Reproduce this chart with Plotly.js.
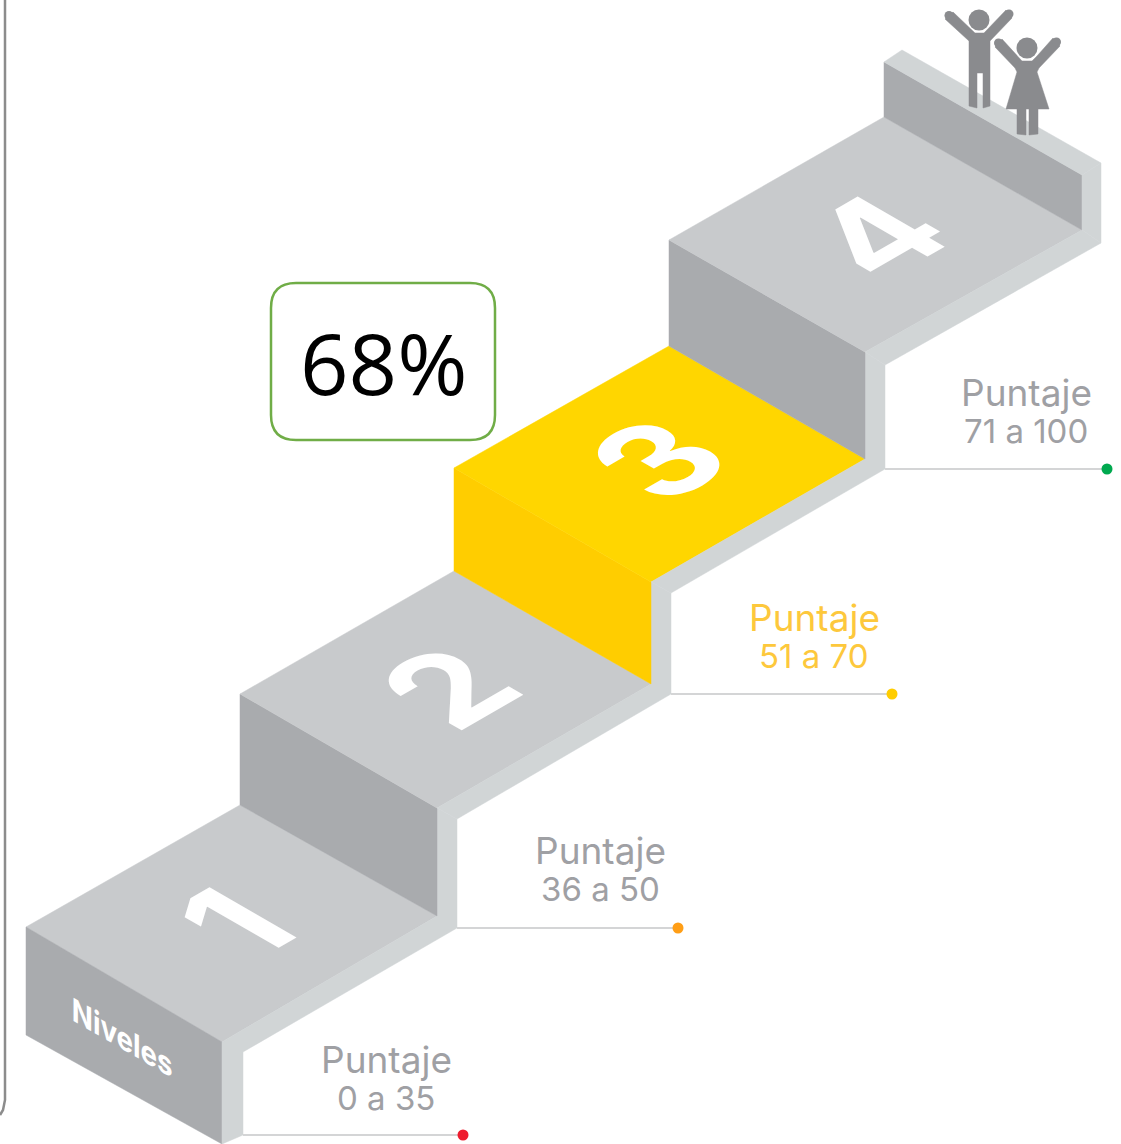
<!DOCTYPE html>
<html><head><meta charset="utf-8">
<script src="https://cdn.plot.ly/plotly-3.0.1.min.js"></script>
<style>html,body{margin:0;padding:0;background:#fff;overflow:hidden}#c{width:1121px;height:1144px}</style>
</head><body><div id="c"></div>
<script>
const GREY_TOP='#c8cacc',GREY_RISER='#a9abae',LIGHT='#d1d5d6',YEL_TOP='#ffd600',YEL_RISER='#ffcd00',FIG='#8a8b8e',TXT='#9fa0a4',TXT_Y='#fdc83c';

const step1Top=[[26,927],[240,805],[437,916],[222,1042]];
const step1Front=[[26,927],[222,1042],[222,1144],[26,1035]];
const band1=[[222,1042],[437,916],[437,808],[457,819],[457,928],[243,1052],[243,1135],[222,1144]];
const riser2=[[240,805],[240,694],[437,808],[437,916]];
const step2Top=[[240,694],[454,571],[651,684],[437,808]];
const band2=[[437,808],[651,684],[651,582],[671,593],[671,694],[457,819]];
const riser3=[[454,571],[454,468],[651,582],[651,684]];
const step3Top=[[454,468],[669,346],[865,459],[651,582]];
const band3=[[651,582],[865,459],[865,352],[885,365],[885,469],[671,593]];
const riser4=[[669,346],[669,240],[865,352],[865,459]];
const step4Top=[[669,240],[884,117],[1082,230],[865,352]];
const band4=[[865,352],[1082,230],[1101,243],[885,365]];
const wall=[[884,117],[884,62],[1082,175],[1082,230]];
const wallTop=[[884,62],[902,50],[1101,163],[1082,175]];
const wallSide=[[1082,175],[1101,163],[1101,243],[1082,230]];
const man=[[953,12],[971,29],[975,33],[984,33],[988,29],[1006,10],[1012,18],[990,41],[990,106],[983,108],[983,73],[977,73],[977,108],[969,106],[969,41],[945,19]];
const woman=[[1002,39],[1017,56],[1022,61],[1032,61],[1037,56],[1053,38],[1060,46],[1039,68],[1037,72],[1049,109],[1038,109],[1038,134],[1029,135],[1029,109],[1026,109],[1026,135],[1017,134],[1017,109],[1006,109],[1017,72],[1015,68],[995,47]];
const heads=[[979,20],[1027,48]];
const hands=[[949,15.5],[1009,14],[998.5,43],[1056.5,42]];

const polys=[[step1Top,GREY_TOP],[step1Front,GREY_RISER],[band1,LIGHT],[riser2,GREY_RISER],[step2Top,GREY_TOP],[band2,LIGHT],
 [riser3,YEL_RISER],[step3Top,YEL_TOP],[band3,LIGHT],[riser4,GREY_RISER],[step4Top,GREY_TOP],[band4,LIGHT],
 [wall,GREY_RISER],[wallTop,LIGHT],[wallSide,LIGHT],[man,FIG],[woman,FIG]];

const leaderX=[[243,463],[457,678],[671,892],[885,1107]];
const leaderY=[1135,928,694,469];
const dotColors=['#ee1c2e','#ff9e16','#ffcd00','#00a94f'];
const labelTop=['Puntaje','Puntaje','Puntaje','Puntaje'];
const labelBottom=['0 a 35','36 a 50','51 a 70','71 a 100'];
const labelX=[386,600,814,1026];
const labelTopY=[1059,850,617,392];
const labelBottomY=[1098,889,656,431];
const labelColors=[TXT,TXT,TXT_Y,TXT];
const digits=['1','2','3','4'];
const digitX=[235,448,657,876];
const digitY=[922,687,459,235];
const scoreText='68%';
const frameX=[5,5,3,0],frameY=[0,1100,1110,1115];

const traces=[];
polys.forEach(([p,c])=>traces.push({type:'scatter',mode:'lines',x:p.map(q=>q[0]).concat(p[0][0]),y:p.map(q=>q[1]).concat(p[0][1]),fill:'toself',fillcolor:c,line:{width:0.5,color:c},hoverinfo:'skip'}));
traces.push({type:'scatter',mode:'markers',x:heads.map(h=>h[0]),y:heads.map(h=>h[1]),marker:{size:21,color:FIG},hoverinfo:'skip'});
traces.push({type:'scatter',mode:'markers',x:hands.map(h=>h[0]),y:hands.map(h=>h[1]),marker:{size:9,color:FIG},hoverinfo:'skip'});
leaderX.forEach((xs,i)=>{
  traces.push({type:'scatter',mode:'lines',x:xs,y:[leaderY[i],leaderY[i]],line:{color:'#d4d5d6',width:2},hoverinfo:'skip'});
  traces.push({type:'scatter',mode:'markers',x:[xs[1]],y:[leaderY[i]],marker:{size:11,color:dotColors[i]},hoverinfo:'skip'});
});
traces.push({type:'scatter',mode:'lines',x:frameX,y:frameY,line:{color:'#8c8c8c',width:2.5},hoverinfo:'skip'});

const lab=(t,x,y,size,color,family)=>({text:t,x,y,xref:'x',yref:'y',showarrow:false,xanchor:'center',yanchor:'middle',font:{size,color,family:family||'Inter, sans-serif'}});
const annotations=[];
labelX.forEach((x,i)=>{
  annotations.push(lab(labelTop[i],x,labelTopY[i],37,labelColors[i]));
  annotations.push(lab(labelBottom[i],x,labelBottomY[i],33,labelColors[i]));
});
digits.forEach((d,i)=>annotations.push(lab('<b>'+d+'</b>',digitX[i],digitY[i],138,'#ffffff')));
annotations.push(lab('<b>Niveles</b>',122,1037,32,'#ffffff'));
annotations.push(lab(scoreText,383,362,85,'#000000','"Open Sans", sans-serif'));

const roundedBox='M296,283 H470 Q495,283 495,308 V415 Q495,440 470,440 H296 Q271,440 271,415 V308 Q271,283 296,283 Z';

function skewLettering(gd){
  gd.querySelectorAll('.annotation-text-g').forEach(g=>{
    const s=g.textContent.trim();
    let m=null;
    if(digits.includes(s)) m='0.866,-0.5,0.866,0.5,0,0';
    if(s==='Niveles') m='0.866,0.5,0,1,0,0';
    if(!m) return;
    const b=g.getBBox(),cx=b.x+b.width/2,cy=b.y+b.height/2;
    g.setAttribute('transform',`translate(${cx},${cy}) matrix(${m}) translate(${-cx},${-cy})`);
  });
}
Plotly.newPlot(document.getElementById('c'),traces,{
  width:1121,height:1144,margin:{l:0,r:0,t:0,b:0},showlegend:false,
  paper_bgcolor:'#fff',plot_bgcolor:'#fff',
  xaxis:{range:[0,1121],visible:false,fixedrange:true},
  yaxis:{range:[1144,0],visible:false,fixedrange:true},
  shapes:[{type:'path',path:roundedBox,xref:'x',yref:'y',line:{color:'#70ad47',width:2.5},fillcolor:'#fff',layer:'above'}],
  annotations
},{displayModeBar:false}).then(skewLettering);
</script></body></html>
